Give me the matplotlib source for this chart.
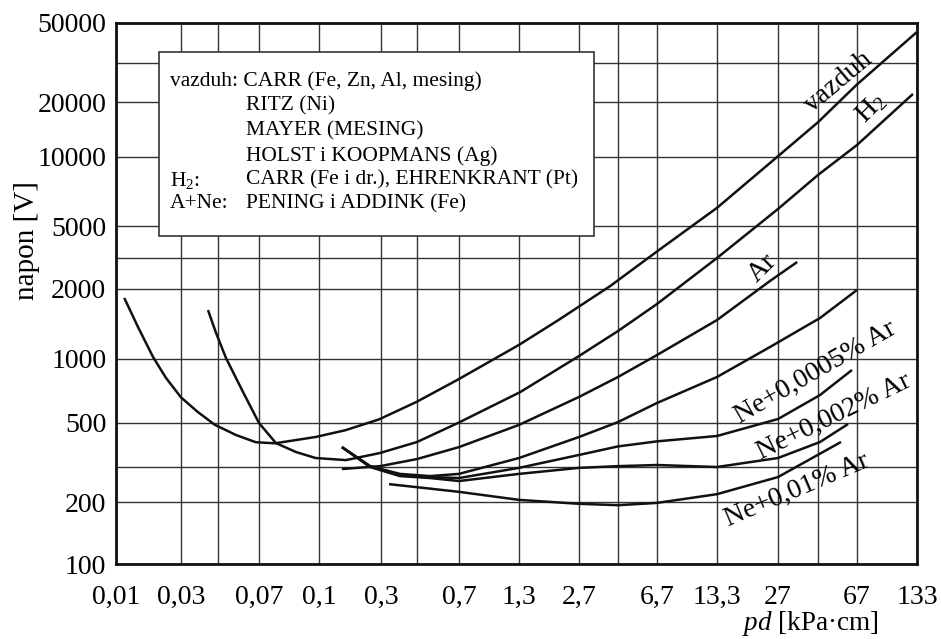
import numpy as np
import matplotlib
matplotlib.use('Agg')
import matplotlib.pyplot as plt
from matplotlib.patches import Rectangle

plt.rcParams['font.family'] = ['Liberation Serif', 'DejaVu Serif']
plt.rcParams['mathtext.fontset'] = 'custom'
plt.rcParams['mathtext.rm'] = 'Liberation Serif'
plt.rcParams['mathtext.it'] = 'Liberation Serif:italic'

# ---------------- data ----------------
x_ticks = [0.01, 0.03, 0.07, 0.1, 0.3, 0.7, 1.3, 2.7, 6.7, 13.3, 27, 67, 133]
x_tick_labels = ['0,01', '0,03', '0,07', '0,1', '0,3', '0,7', '1,3', '2,7',
                 '6,7', '13,3', '27', '67', '133']
x_minor = [0.04, 0.4, 4, 40]
y_ticks = [100, 200, 500, 1000, 2000, 5000, 10000, 20000, 50000]
y_tick_labels = ['100', '200', '500', '1000', '2000', '5000', '10000', '20000', '50000']
y_minor = [300, 3000, 30000]

vazduh_pd = [0.0115, 0.0145, 0.0187, 0.0233, 0.03, 0.0342, 0.039, 0.0511, 0.067,
             0.077, 0.098, 0.16, 0.29, 0.4, 0.69, 1.3, 2.1, 3.7, 6.7, 13.3, 27,
             40, 67, 133]
vazduh_u = [1830, 1373, 1020, 814, 660, 563, 490, 435, 400,
            395, 425, 460, 520, 630, 800, 1150, 1470, 2080, 3330, 6000, 10100,
            15500, 24000, 44600]

h2_pd = [0.037, 0.0394, 0.0446, 0.0563, 0.07, 0.0774, 0.0872, 0.098, 0.161,
         0.295, 0.4, 0.69, 1.32, 2.7, 4, 6.7, 13.3, 27, 40, 67, 127]
h2_u = [1624, 1294, 1010, 699, 500, 396, 357, 333, 325,
        353, 401, 500, 699, 1030, 1319, 1724, 3000, 5932, 8347, 11633, 21740]

ar_pd = [0.150, 0.295, 0.4, 0.7, 1.3, 2.7, 4, 6.7, 13.3, 24.6, 32.6]
ar_u = [293, 303, 329, 378, 489, 663, 823, 1040, 1471, 2221, 2847]

ne_a_pd = [0.150, 0.247, 0.349, 0.476, 0.7, 1.3, 2.7, 4, 6.7, 13.3, 24.6, 41.1, 67]
ne_a_u = [378, 303, 277, 270, 277, 333, 425, 505, 621, 823, 1126, 1501, 1981]

ne_b_pd = [0.150, 0.247, 0.349, 0.476, 0.7, 1.3, 2.7, 4, 6.7, 13.3, 27, 41.1, 62.7]
ne_b_u = [378, 303, 273, 267, 264, 297, 345, 381, 404, 430, 522, 677, 888]

ne_c_pd = [0.150, 0.247, 0.349, 0.476, 0.7, 1.3, 2.7, 4, 6.7, 13.3, 27, 41.1, 59.5]
ne_c_u = [378, 300, 270, 264, 255, 277, 297, 303, 307, 300, 333, 401, 494]

ne_d_pd = [0.32, 0.7, 1.3, 2.7, 4, 6.7, 13.3, 27, 54.2]
ne_d_u = [246, 225, 205, 196, 193, 198, 219, 267, 401]

legend_left = ['vazduh: CARR (Fe, Zn, Al, mesing)', '', '', '', 'H$_2$:', 'A+Ne:']
legend_right = ['', 'RITZ (Ni)', 'MAYER (MESING)', 'HOLST i KOOPMANS (Ag)',
                'CARR (Fe i dr.), EHRENKRANT (Pt)', 'PENING i ADDINK (Fe)']

# ---------------- irregular (hand-drawn) axis scales ----------------
W, H = 941, 639
X_SCALE_VALS = np.log10([0.01, 0.03, 0.04, 0.07, 0.1, 0.3, 0.4, 0.7, 1.3, 2.7, 4,
                         6.7, 13.3, 27, 40, 67, 133])
X_SCALE_POS = np.array([116, 181, 218, 259, 319, 381, 417, 459, 519, 579, 618,
                        657, 717, 778, 818, 857, 917], dtype=float)
Y_SCALE_VALS = np.log10([100, 200, 300, 500, 1000, 2000, 3000, 5000, 10000,
                         20000, 30000, 50000])
Y_SCALE_POS = -np.array([564, 502, 467, 423, 359, 289, 258, 226, 157, 102, 63, 23],
                        dtype=float)


def _fwd(vals, pos):
    def f(v):
        v = np.asarray(v, dtype=float)
        lv = np.log10(np.clip(v, 1e-12, None))
        return np.interp(lv, vals, pos)
    return f


def _inv(vals, pos):
    def f(p):
        p = np.asarray(p, dtype=float)
        return 10 ** np.interp(p, pos, vals)
    return f


fig = plt.figure(figsize=(W / 100, H / 100), dpi=100)
ax = fig.add_axes([116 / W, 1 - 564 / H, (917 - 116) / W, (564 - 23) / H])
ax.set_xscale('function', functions=(_fwd(X_SCALE_VALS, X_SCALE_POS),
                                     _inv(X_SCALE_VALS, X_SCALE_POS)))
ax.set_yscale('function', functions=(_fwd(Y_SCALE_VALS, Y_SCALE_POS),
                                     _inv(Y_SCALE_VALS, Y_SCALE_POS)))
ax.set_xlim(0.01, 133)
ax.set_ylim(100, 50000)

ax.set_xticks(x_ticks)
ax.set_xticklabels(x_tick_labels, fontsize=20)
ax.set_xticks(x_minor, minor=True)
ax.set_yticks(y_ticks)
ax.set_yticklabels(y_tick_labels, fontsize=20)
ax.set_yticks(y_minor, minor=True)
ax.tick_params(which='both', length=0)
ax.tick_params(axis='x', pad=15)
ax.tick_params(axis='y', pad=7)
ax.grid(True, which='both', color='#333333', lw=1.0, zorder=0)
ax.set_axisbelow(True)
for s in ax.spines.values():
    s.set_linewidth(2.0)
    s.set_color('#111111')

curve_kw = dict(color='#111111', lw=1.8, solid_capstyle='butt',
                solid_joinstyle='round', zorder=4)
for xs, ys in [(vazduh_pd, vazduh_u), (h2_pd, h2_u), (ar_pd, ar_u),
               (ne_a_pd, ne_a_u), (ne_b_pd, ne_b_u), (ne_c_pd, ne_c_u),
               (ne_d_pd, ne_d_u)]:
    ax.plot(xs, ys, **curve_kw)

# legend box
def P(x, y):
    return (x / W, 1 - y / H)

box = Rectangle(P(159, 236), (594 - 159) / W, (236 - 52) / H, transform=fig.transFigure,
                facecolor='white', edgecolor='#333333', lw=1.2, zorder=5)
ax.add_artist(box)
box.set_clip_on(False)
rows_y = [81, 106, 131, 156, 180, 204]
for yy, lt, rt in zip(rows_y, legend_left, legend_right):
    if lt:
        fig.text(*P(170, yy), lt, fontsize=15.5, ha='left', va='center', zorder=6)
    if rt:
        fig.text(*P(246, yy), rt, fontsize=15.5, ha='left', va='center', zorder=6)

# curve labels
lab_kw = dict(fontsize=20, ha='center', va='center', rotation_mode='anchor', zorder=6)
fig.text(*P(838, 82), 'vazduh', rotation=40, **lab_kw)
fig.text(*P(871, 108), 'H$_2$', rotation=45, **lab_kw)
fig.text(*P(762, 268), 'Ar', rotation=45, **lab_kw)
fig.text(*P(815, 372), 'Ne+0,0005% Ar', rotation=30, **lab_kw)
fig.text(*P(834, 417), 'Ne+0,002% Ar', rotation=26, **lab_kw)
fig.text(*P(797, 490), 'Ne+0,01% Ar', rotation=23, **lab_kw)

fig.text(*P(27, 241), 'napon [V]', rotation=90, fontsize=21, ha='center', va='center')
fig.text(*P(810, 624), '$\\mathit{pd}$ [kPa·cm]', fontsize=19.5, ha='center', va='center')

fig.savefig('out.png', dpi=100, facecolor='white')
